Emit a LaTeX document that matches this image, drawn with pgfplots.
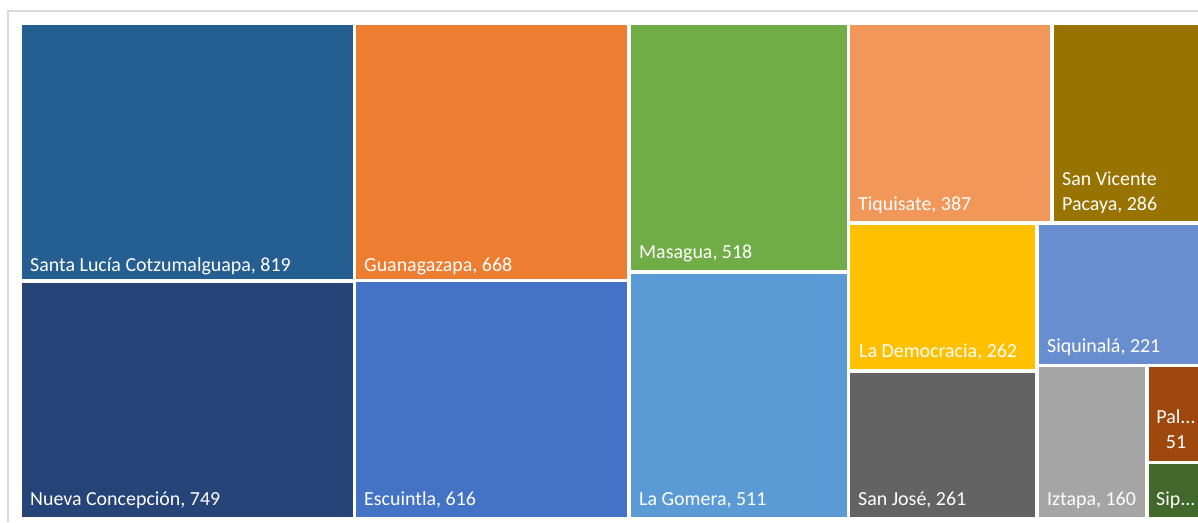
\documentclass[border=0pt]{standalone}
\usepackage{pgfplots}
\pgfplotsset{compat=1.18}
\usepackage{fontspec}
\setmainfont{Carlito}
\definecolor{cA}{HTML}{255E91}
\definecolor{cB}{HTML}{264478}
\definecolor{cC}{HTML}{ED7D31}
\definecolor{cD}{HTML}{4472C4}
\definecolor{cE}{HTML}{70AD47}
\definecolor{cF}{HTML}{5B9BD5}
\definecolor{cG}{HTML}{F1975A}
\definecolor{cH}{HTML}{997300}
\definecolor{cI}{HTML}{FFC000}
\definecolor{cJ}{HTML}{698ED0}
\definecolor{cK}{HTML}{636363}
\definecolor{cL}{HTML}{A5A5A5}
\definecolor{cM}{HTML}{9E480E}
\definecolor{cN}{HTML}{43682B}
\begin{document}
\begin{tikzpicture}[lab/.style={anchor=base west,text=white,inner sep=0pt,font=\fontsize{20}{24}\selectfont}]
\begin{axis}[width=1198bp,height=522bp,scale only axis,
  xmin=0,xmax=1198,ymin=0,ymax=522,y dir=reverse,hide axis,clip=true]
\path (axis cs:0,0) rectangle (axis cs:1198,522);
% outer frame
\addplot[draw=black!15,line width=1.2bp,mark=none] coordinates {(8,522) (8,11) (1198,11)};
% cells: Santa Lucia Cotzumalguapa 819
\addplot[fill=cA,draw=none,mark=none] coordinates {(22,25) (353,25) (353,279) (22,279)};
% Nueva Concepcion 749
\addplot[fill=cB,draw=none,mark=none] coordinates {(22,283) (353,283) (353,517) (22,517)};
% Guanagazapa 668
\addplot[fill=cC,draw=none,mark=none] coordinates {(356,25) (627,25) (627,279) (356,279)};
% Escuintla 616
\addplot[fill=cD,draw=none,mark=none] coordinates {(356,282) (627,282) (627,517) (356,517)};
% Masagua 518
\addplot[fill=cE,draw=none,mark=none] coordinates {(631,25) (847,25) (847,270) (631,270)};
% La Gomera 511
\addplot[fill=cF,draw=none,mark=none] coordinates {(631,274) (847,274) (847,517) (631,517)};
% Tiquisate 387
\addplot[fill=cG,draw=none,mark=none] coordinates {(850,25) (1050,25) (1050,221) (850,221)};
% San Vicente Pacaya 286
\addplot[fill=cH,draw=none,mark=none] coordinates {(1054,25) (1198,25) (1198,221) (1054,221)};
% La Democracia 262
\addplot[fill=cI,draw=none,mark=none] coordinates {(850,225) (1035,225) (1035,369) (850,369)};
% San Jose 261
\addplot[fill=cK,draw=none,mark=none] coordinates {(850,373) (1035,373) (1035,517) (850,517)};
% Siquinala 221
\addplot[fill=cJ,draw=none,mark=none] coordinates {(1039,225) (1198,225) (1198,364) (1039,364)};
% Iztapa 160
\addplot[fill=cL,draw=none,mark=none] coordinates {(1039,367) (1145,367) (1145,517) (1039,517)};
% Pal... 51
\addplot[fill=cM,draw=none,mark=none] coordinates {(1149,367) (1198,367) (1198,461) (1149,461)};
% Sip... 29
\addplot[fill=cN,draw=none,mark=none] coordinates {(1149,464) (1198,464) (1198,517) (1149,517)};
% labels
\node[lab] at (axis cs:30,271) {Santa Lucía Cotzumalguapa, 819};
\node[lab] at (axis cs:30,505) {Nueva Concepción, 749};
\node[lab] at (axis cs:364,271) {Guanagazapa, 668};
\node[lab] at (axis cs:364,505) {Escuintla, 616};
\node[lab] at (axis cs:639,258) {Masagua, 518};
\node[lab] at (axis cs:639,505) {La Gomera, 511};
\node[lab] at (axis cs:858,210) {Tiquisate, 387};
\node[lab] at (axis cs:1062,185) {San Vicente};
\node[lab] at (axis cs:1062,210) {Pacaya, 286};
\node[lab] at (axis cs:859,357) {La Democracia, 262};
\node[lab] at (axis cs:1047,352) {Siquinalá, 221};
\node[lab] at (axis cs:858,505) {San José, 261};
\node[lab] at (axis cs:1047,505) {Iztapa, 160};
\node[lab,anchor=base] at (axis cs:1176,423) {Pal...};
\node[lab,anchor=base] at (axis cs:1176,448) {51};
\node[lab] at (axis cs:1156,505) {Sip...};
\end{axis}
\end{tikzpicture}
\end{document}
